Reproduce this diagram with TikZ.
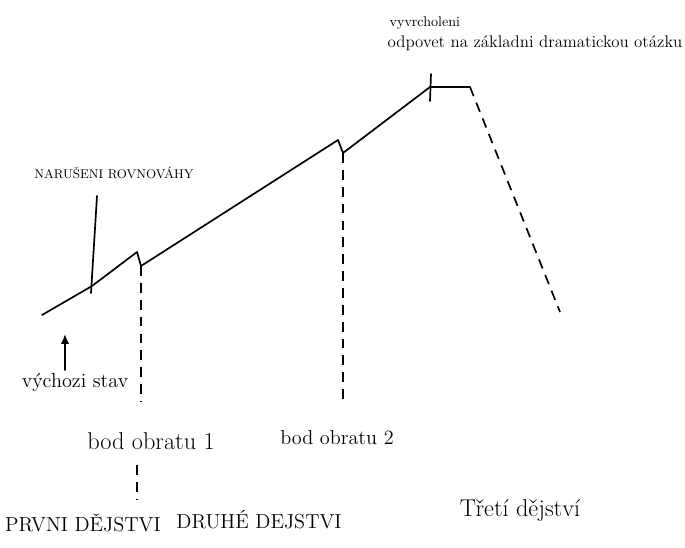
\documentclass[tikz,border=0pt]{standalone}
\usepackage{tikz}
\usetikzlibrary{arrows.meta,positioning}
\tikzstyle{plot_line} =[line width=1.2pt,line cap=round,line join=round]
\tikzstyle{turn_line} =[line width=1.2pt,dash pattern=on 7pt off 5pt]
\tikzstyle{label_text} =[inner sep=1pt]

\begin{document}
\begin{tikzpicture}[x=0.025cm,y=-0.025cm]

    \useasboundingbox (0,0) rectangle (685,547);

    % Points on the story line
    \coordinate (start_state) at (42,315);
    \coordinate (disturbance_point) at (92,286);
    \coordinate (disturbance_top) at (97,196);
    \coordinate (disturbance_bottom) at (91,293);
    \coordinate (first_peak) at (137,252);
    \coordinate (first_turn) at (141,266);
    \coordinate (first_turn_end) at (141,402);
    \coordinate (second_peak) at (338,140);
    \coordinate (second_turn) at (343,153);
    \coordinate (second_turn_end) at (343,400);
    \coordinate (climax_point) at (430,87);
    \coordinate (climax_top) at (431,74);
    \coordinate (climax_bottom) at (430,101);
    \coordinate (climax_end) at (470,87);
    \coordinate (falling_end) at (560,312);
    \coordinate (act_split_top) at (137,465);
    \coordinate (act_split_bottom) at (137,500);
    \coordinate (start_arrow_tail) at (65,370);
    \coordinate (start_arrow_head) at (65,334);



    % Labels
    \node[label_text,anchor=west] (climax_label) at (388,23) {vyvrcholeni};
    \node[label_text,anchor=west] (climax_answer) at (386,43) {\large odpovet na základni dramatickou otázku};
    \node[label_text] (disturbance_label) at (114,173) {\small NARUŠENI ROVNOVÁHY};
    \node[label_text] (start_label) at (75,383) {\Large výchozi stav};
    \node[label_text] (first_turn_label) at (151,441) {\LARGE bod obratu 1};
    \node[label_text] (second_turn_label) at (337,438) {\Large bod obratu 2};
    \node[label_text] (first_act) at (83,523) {\Large PRVNI DĚJSTVI};
    \node[label_text] (second_act) at (259,520) {\Large DRUHÉ DEJSTVI};
    \node[label_text] (third_act) at (520,511) {\LARGE Třetí dějství};



    % Rising line with the two turns
    \draw[plot_line] (start_state) -- (disturbance_point) -- (first_peak) -- (first_turn)
        -- (second_peak) -- (second_turn) -- (climax_point) -- (climax_end);
    \draw[plot_line] (disturbance_top) -- (disturbance_bottom);
    \draw[plot_line] (climax_top) -- (climax_bottom);

    % Turning points down to the labels
    \draw[turn_line] (first_turn) -- (first_turn_end);
    \draw[turn_line] (second_turn) -- (second_turn_end);
    \draw[turn_line] (act_split_top) -- (act_split_bottom);

    % Falling action
    \draw[turn_line] (climax_end) -- (falling_end);

    % Start state pointer
    \draw[plot_line,-{Latex[length=7pt,width=6pt]}] (start_arrow_tail) -- (start_arrow_head);

\end{tikzpicture}
\end{document}
